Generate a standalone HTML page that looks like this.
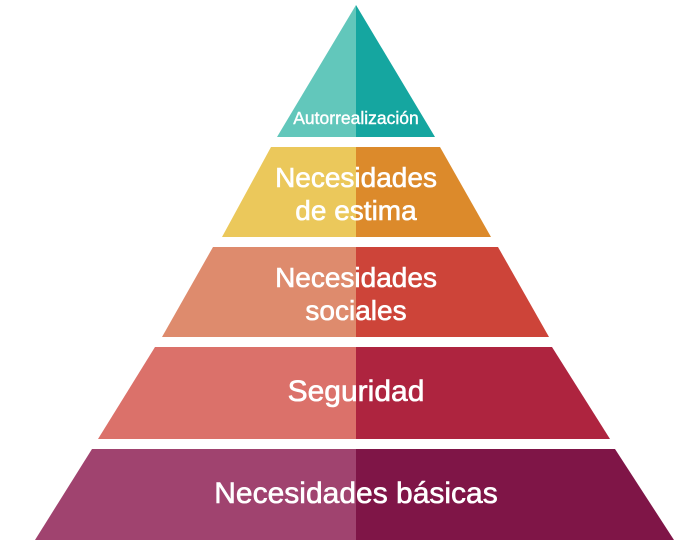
<!DOCTYPE html>
<html><head><meta charset="utf-8"><style>
html,body{margin:0;padding:0;background:#fff;width:674px;height:540px;overflow:hidden}
</style></head><body>
<svg width="674" height="540" viewBox="0 0 674 540" xmlns="http://www.w3.org/2000/svg" font-family="Liberation Sans, sans-serif" fill="#fff">
<polygon points="356,5 356,137 277,137" fill="#62c7bb"/>
<polygon points="356,5 435,137 356,137" fill="#15a6a0"/>
<polygon points="271,147 356,147 356,237 222,237" fill="#ebc85b"/>
<polygon points="356,147 440,147 491,237 356,237" fill="#dc8a2b"/>
<polygon points="213,247 356,247 356,337 162,337" fill="#de8b6d"/>
<polygon points="356,247 498,247 549,337 356,337" fill="#cd4439"/>
<polygon points="155,347 356,347 356,439 98,439" fill="#db716a"/>
<polygon points="356,347 552,347 610,439 356,439" fill="#ae243f"/>
<polygon points="92,449 356,449 356,540 35,540" fill="#a0436f"/>
<polygon points="356,449 615,449 674,540 356,540" fill="#7f1547"/>
<g stroke="#fff" stroke-width="0.6">
<text x="356" y="124" font-size="17.5" text-anchor="middle" stroke-width="0.4">Autorrealización</text>
<text x="356" y="187" font-size="28" text-anchor="middle">Necesidades</text>
<text x="356" y="220" font-size="28" text-anchor="middle">de estima</text>
<text x="356" y="287" font-size="28" text-anchor="middle">Necesidades</text>
<text x="356" y="320" font-size="28" text-anchor="middle">sociales</text>
<text x="356" y="401" font-size="30" text-anchor="middle">Seguridad</text>
<text x="356" y="503" font-size="30" text-anchor="middle">Necesidades básicas</text>
</g>
</svg>
</body></html>
